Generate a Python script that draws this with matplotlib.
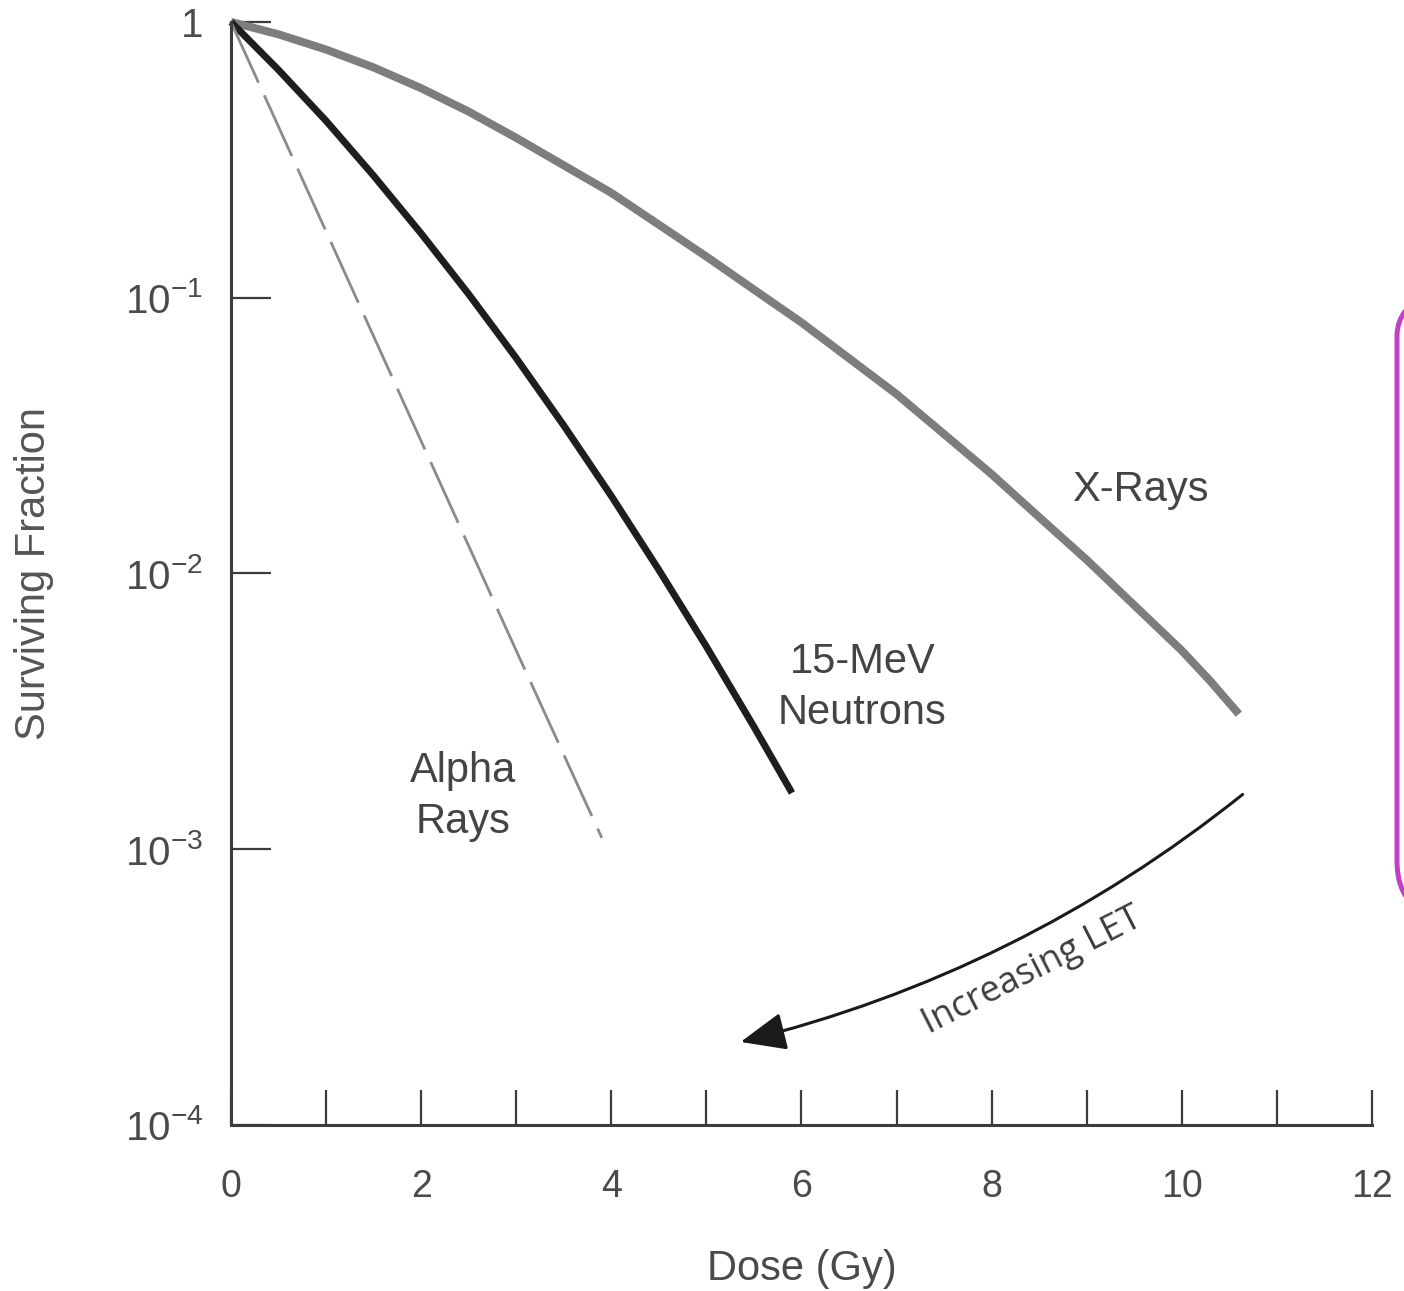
import matplotlib
matplotlib.use("Agg")
import matplotlib.pyplot as plt
from matplotlib.patches import FancyBboxPatch

# survival curves (every half Gy)
dose_xray = [0, 0.5, 1, 1.5, 2, 2.5, 3, 3.5, 4, 4.5, 5, 5.5, 6, 6.5, 7, 7.5, 8, 8.5,
             9, 9.5, 10, 10.3, 10.6]
sf_xray = [1.0, 0.902, 0.794, 0.684, 0.575, 0.473, 0.380, 0.302, 0.240, 0.184,
           0.141, 0.107, 0.0813, 0.0603, 0.0447, 0.0320, 0.0229, 0.0160,
           0.0112, 0.00767, 0.00525, 0.00407, 0.00309]

dose_neutron = [0, 0.5, 1, 1.5, 2, 2.5, 3, 3.5, 4, 4.5, 5, 5.5, 5.9]
sf_neutron = [1.0, 0.67, 0.438, 0.277, 0.171, 0.103, 0.0604, 0.0344, 0.0191,
              0.0103, 0.00543, 0.00278, 0.0016]

dose_alpha = [0, 1, 2, 3, 3.9]
sf_alpha = [1.0, 0.174, 0.0302, 0.00525, 0.0011]

x_ticks = list(range(0, 13))
x_ticklabels = [str(t) if t % 2 == 0 else '' for t in x_ticks]
y_ticks = [1e-4, 1e-3, 1e-2, 1e-1, 1]
y_ticklabels = [r'$10^{-4}$', r'$10^{-3}$', r'$10^{-2}$', r'$10^{-1}$', '1']

plt.rcParams['font.family'] = ['Liberation Sans', 'DejaVu Sans']
plt.rcParams['mathtext.fontset'] = 'custom'
plt.rcParams['mathtext.rm'] = 'Liberation Sans'
plt.rcParams['mathtext.it'] = 'Liberation Sans:italic'
plt.rcParams['mathtext.default'] = 'regular'

fig = plt.figure(figsize=(14.04, 12.91), dpi=100)
ax = fig.add_axes([0.1645, 0.1286, 0.8127, 0.8544])

ax.plot(dose_xray, sf_xray, color='#7d7d7d', lw=5.8, solid_capstyle='butt',
        solid_joinstyle='round', clip_on=False)
ax.plot(dose_neutron, sf_neutron, color='#1e1e1e', lw=5.0, solid_capstyle='butt',
        solid_joinstyle='round', clip_on=False)
ax.plot(dose_alpha, sf_alpha, color='#8a8a8a', lw=2.0, dashes=(24, 5), clip_on=False)

ax.set_yscale('log')
ax.set_xlim(0, 12)
ax.set_ylim(1e-4, 1)
ax.yaxis.set_minor_locator(matplotlib.ticker.NullLocator())
ax.set_xticks(x_ticks)
ax.set_xticklabels(x_ticklabels)
ax.set_yticks(y_ticks)
ax.set_yticklabels(y_ticklabels)

for s in ['top', 'right']:
    ax.spines[s].set_visible(False)
for s in ['left', 'bottom']:
    ax.spines[s].set_color('#3c3c3c')
    ax.spines[s].set_linewidth(2.2)

ax.tick_params(axis='x', direction='in', length=25, width=1.6, color='#3c3c3c',
               labelsize=27, labelcolor='#4a4a4a', pad=32)
ax.tick_params(axis='y', direction='in', length=29, width=1.6, color='#3c3c3c',
               labelsize=29, labelcolor='#4a4a4a', pad=20)

ax.set_xlabel('Dose (Gy)', fontsize=30, color='#4a4a4a')
ax.xaxis.set_label_coords(0.5, -0.112)
ax.set_ylabel('Surviving Fraction', fontsize=30, color='#555555')
ax.yaxis.set_label_coords(-0.155, 0.5)

ax.text(9.56, 0.020, 'X-Rays', fontsize=30, color='#444444', ha='center', va='center')
ax.text(6.64, 0.00385, '15-MeV\nNeutrons', fontsize=30, color='#444444',
        ha='center', va='center', linespacing=1.35)
ax.text(2.44, 0.00155, 'Alpha\nRays', fontsize=30, color='#444444',
        ha='center', va='center', linespacing=1.35)

ax.annotate('', xy=(5.36, 2.0e-4), xytext=(10.64, 1.58e-3),
            arrowprops=dict(arrowstyle='-|>,head_length=1.0,head_width=0.42',
                            connectionstyle='arc3,rad=-0.11', color='#1a1a1a',
                            lw=2.2, mutation_scale=28, shrinkA=0, shrinkB=0))
ax.text(8.43, 3.6e-4, 'Increasing LET', fontsize=26, color='#3c3c3c',
        family=['Open Sans', 'DejaVu Sans'], rotation=27,
        ha='center', va='center', rotation_mode='anchor')

# magenta rounded frame cut off at the right edge
W, H = 1404.0, 1291.0
box = FancyBboxPatch((1397 / W, 1 - 919 / H), 200 / W, (919 - 278) / H,
                     boxstyle='round,pad=0,rounding_size=0.045',
                     transform=fig.transFigure, fill=False,
                     edgecolor='#c040c8', lw=3.6, clip_on=False)
fig.patches.append(box)

fig.savefig('out.png', dpi=100)
